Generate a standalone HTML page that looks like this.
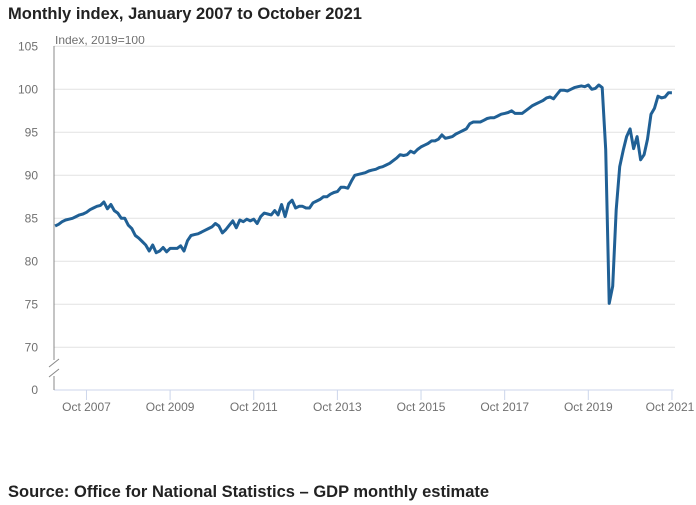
<!DOCTYPE html>
<html><head><meta charset="utf-8"><style>
html,body{margin:0;padding:0;background:#fff;width:696px;height:505px;overflow:hidden;font-family:"Liberation Sans",sans-serif}
</style></head><body>
<svg id="chart" width="696" height="505" viewBox="0 0 696 505" xmlns="http://www.w3.org/2000/svg">
<text x="8" y="19" font-size="16.5" font-weight="bold" fill="#222">Monthly index, January 2007 to October 2021</text>
<g id="grid"></g>
<g id="yticks"></g>
<g id="xticks"></g>
<text x="55" y="44" font-size="12" fill="#707070">Index, 2019=100</text>
<rect x="50" y="28" width="200" height="8" fill="#fff"/>
<line x1="54" y1="46" x2="54" y2="390" stroke="#888" stroke-width="1"/>
<rect x="46" y="360" width="14" height="16" fill="#fff"/>
<g stroke="#888" stroke-width="1"><line x1="49" y1="367" x2="59" y2="359"/><line x1="49" y1="377" x2="59" y2="369"/></g>
<path id="line" fill="none" stroke="#206095" stroke-width="3" stroke-linejoin="round"/>
<text x="8" y="497" font-size="16.5" font-weight="bold" fill="#222">Source: Office for National Statistics – GDP monthly estimate</text>
</svg>
<script>
const values = [
84.1,84.3,84.6,84.8,84.9,85.0,85.2,85.4,85.5,85.7,86.0,86.2,
86.4,86.5,86.9,86.1,86.6,85.9,85.6,85.0,85.0,84.2,83.8,83.0,
82.7,82.3,81.9,81.2,81.9,81.0,81.2,81.6,81.1,81.5,81.5,81.5,
81.8,81.2,82.4,83.0,83.1,83.2,83.4,83.6,83.8,84.0,84.4,84.1,
83.3,83.7,84.2,84.7,83.9,84.8,84.6,84.9,84.7,84.9,84.4,85.2,
85.6,85.5,85.4,85.9,85.4,86.6,85.2,86.7,87.1,86.2,86.4,86.4,
86.2,86.2,86.8,87.0,87.2,87.5,87.5,87.8,88.0,88.1,88.6,88.6,
88.5,89.3,90.0,90.1,90.2,90.3,90.5,90.6,90.7,90.9,91.0,91.2,
91.4,91.7,92.0,92.4,92.3,92.4,92.8,92.6,93.0,93.3,93.5,93.7,
94.0,94.0,94.2,94.7,94.3,94.4,94.5,94.8,95.0,95.2,95.4,96.0,
96.2,96.2,96.2,96.4,96.6,96.7,96.7,96.9,97.1,97.2,97.3,97.5,
97.2,97.2,97.2,97.5,97.8,98.1,98.3,98.5,98.7,99.0,99.1,98.9,
99.4,99.9,99.9,99.8,100.0,100.2,100.3,100.4,100.3,100.5,100.0,100.1,
100.5,100.2,93.0,75.1,77.1,86.0,91.0,92.9,94.5,95.4,93.1,94.5,
91.8,92.4,94.2,97.1,97.8,99.2,99.0,99.1,99.6,99.6];
const yTicks = [105,100,95,90,85,80,75,70];
const xTickLabels = ["Oct 2007","Oct 2009","Oct 2011","Oct 2013","Oct 2015","Oct 2017","Oct 2019","Oct 2021"];
const xTickMonths = [9,33,57,81,105,129,153,177];

const NS="http://www.w3.org/2000/svg";
function xs(m){return 55.1+m*3.485;}
function ys(v){return 89.3+(100-v)*8.6;}
const grid=document.getElementById('grid'), yt=document.getElementById('yticks'), xt=document.getElementById('xticks');
yTicks.forEach(t=>{
  const l=document.createElementNS(NS,'line');
  
  
  l.setAttribute('x1',54);l.setAttribute('x2',675);l.setAttribute('y1',ys(t));l.setAttribute('y2',ys(t));
  l.setAttribute('stroke','#e2e2e2');l.setAttribute('stroke-width',1);grid.appendChild(l);
  const tx=document.createElementNS(NS,'text');
  
  
  tx.setAttribute('x',38);tx.setAttribute('y',ys(t)+4);tx.setAttribute('text-anchor','end');
  tx.setAttribute('font-size','12');tx.setAttribute('fill','#707070');tx.textContent=t;yt.appendChild(tx);
});
const z=document.createElementNS(NS,'text');


z.setAttribute('x',38);z.setAttribute('y',394);z.setAttribute('text-anchor','end');z.setAttribute('font-size','12');z.setAttribute('fill','#707070');z.textContent='0';yt.appendChild(z);
const ax=document.createElementNS(NS,'line');


ax.setAttribute('x1',54);ax.setAttribute('x2',674);ax.setAttribute('y1',390);ax.setAttribute('y2',390);ax.setAttribute('stroke','#ccd6eb');xt.appendChild(ax);
xTickMonths.forEach((m,i)=>{
  const l=document.createElementNS(NS,'line');
  
  
  const x=Math.min(xs(m),672.5);
  l.setAttribute('x1',x);l.setAttribute('x2',x);l.setAttribute('y1',390);l.setAttribute('y2',400);l.setAttribute('stroke','#ccd6eb');xt.appendChild(l);
  const tx=document.createElementNS(NS,'text');
  
  
  tx.setAttribute('x',Math.min(x,670));tx.setAttribute('y',411);tx.setAttribute('text-anchor','middle');
  tx.setAttribute('font-size','12');tx.setAttribute('fill','#707070');tx.textContent=xTickLabels[i];xt.appendChild(tx);
});
document.getElementById('line').setAttribute('d',values.map((v,i)=>(i?'L':'M')+xs(i).toFixed(1)+','+ys(v).toFixed(1)).join(''));
</script>
</body></html>
